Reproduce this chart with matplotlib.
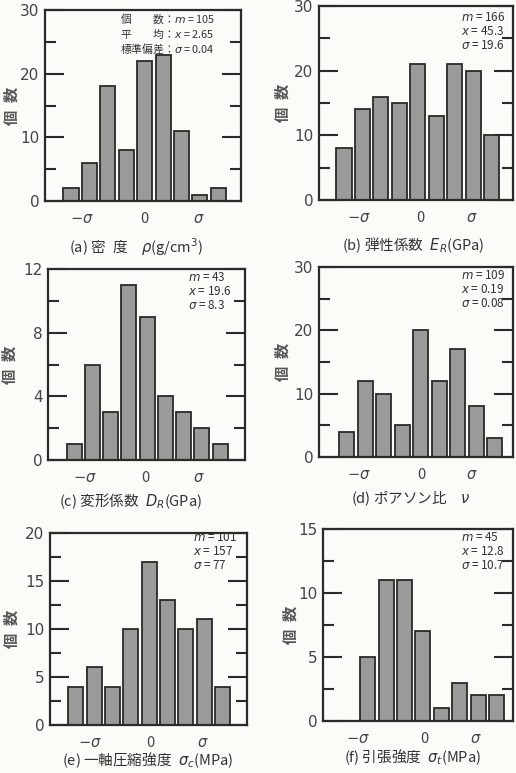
import numpy as np
import matplotlib
matplotlib.use("Agg")
import matplotlib.pyplot as plt
from matplotlib.ticker import MultipleLocator

plt.rcParams['font.family'] = ['Noto Sans CJK JP', 'DejaVu Sans']
plt.rcParams['mathtext.fontset'] = 'dejavusans'

W, H = 516, 773
DPI = 100

# ---- data: frequency counts per class (bins spaced in units of sigma) ----
counts_a = [2, 6, 18, 8, 22, 23, 11, 1, 2]
counts_b = [8, 14, 16, 15, 21, 13, 21, 20, 10]
counts_c = [1, 6, 3, 11, 9, 4, 3, 2, 1]
counts_d = [4, 12, 10, 5, 20, 12, 17, 8, 3]
counts_e = [4, 6, 4, 10, 17, 13, 10, 11, 4]
counts_f = [5, 11, 11, 7, 1, 3, 2, 2]

# index of the first occupied class
first_a, first_b, first_c, first_d, first_e, first_f = 0, 0, 0, 0, 0, 1

# where -sigma, 0 and +sigma fall on the class axis
sigma_pos_a = [0.60, 4.00, 6.96]
sigma_pos_b = [0.80, 4.13, 6.92]
sigma_pos_c = [0.60, 3.93, 6.85]
sigma_pos_d = [0.68, 4.05, 6.77]
sigma_pos_e = [0.75, 4.09, 6.90]
sigma_pos_f = [0.46, 4.07, 6.87]
sigma_labels = [r'$-\sigma$', '0', r'$\sigma$']

# summary statistics
stats_a = ['個\u3000\u3000数：$m$ = 105', '平\u3000\u3000均：$x$ = 2.65', '標準偏差：$\\sigma$ = 0.04']
stats_b = ['$m$ = 166', '$x$ = 45.3', '$\\sigma$ = 19.6']
stats_c = ['$m$ = 43', '$x$ = 19.6', '$\\sigma$ = 8.3']
stats_d = ['$m$ = 109', '$x$ = 0.19', '$\\sigma$ = 0.08']
stats_e = ['$m$ = 101', '$x$ = 157', '$\\sigma$ = 77']
stats_f = ['$m$ = 45', '$x$ = 12.8', '$\\sigma$ = 10.7']

captions = ['(a) 密\u2002度\u3000$\\rho$(g/cm$^3$)',
            '(b) 弾性係数\u2002$E_R$(GPa)',
            '(c) 変形係数\u2002$D_R$(GPa)',
            '(d) ポアソン比\u3000$\\nu$',
            '(e) 一軸圧縮強度\u2002$\\sigma_c$(MPa)',
            '(f) 引張強度\u2002$\\sigma_t$(MPa)']

# ---- layout (pixel boxes: left, right, top, bottom) ----
panels = [
    dict(counts=counts_a, first=first_a, sig=sigma_pos_a, stats=stats_a,
         box=(45, 241, 10, 201), xlim=(-1.41, 9.23), ymax=30, major=10, minor=5,
         stat_xy=(120, 11), stat_fs=7.8, cap_xy=(136, 247), ylab_x=12),
    dict(counts=counts_b, first=first_b, sig=sigma_pos_b, stats=stats_b,
         box=(319, 513, 6, 200), xlim=(-1.35, 9.15), ymax=30, major=10, minor=5,
         stat_xy=(461, 11), stat_fs=8.5, cap_xy=(413, 245), ylab_x=283),
    dict(counts=counts_c, first=first_c, sig=sigma_pos_c, stats=stats_c,
         box=(48, 245, 269, 460), xlim=(-1.44, 9.37), ymax=12, major=4, minor=2,
         stat_xy=(188, 271), stat_fs=8.5, cap_xy=(131, 501), ylab_x=10),
    dict(counts=counts_d, first=first_d, sig=sigma_pos_d, stats=stats_d,
         box=(319, 513, 267, 457), xlim=(-1.51, 9.00), ymax=30, major=10, minor=5,
         stat_xy=(461, 269), stat_fs=8.5, cap_xy=(411, 499), ylab_x=283),
    dict(counts=counts_e, first=first_e, sig=sigma_pos_e, stats=stats_e,
         box=(50, 247, 533, 725), xlim=(-1.40, 9.33), ymax=20, major=5, minor=2.5,
         stat_xy=(193, 531), stat_fs=8.5, cap_xy=(148, 760), ylab_x=12),
    dict(counts=counts_f, first=first_f, sig=sigma_pos_f, stats=stats_f,
         box=(323, 513, 529, 721), xlim=(-1.44, 8.90), ymax=15, major=5, minor=2.5,
         stat_xy=(461, 531), stat_fs=8.5, cap_xy=(413, 757), ylab_x=291),
]

paper = '#fbfbf8'
ink = '#2a2a2a'
bar_fill = '#9a9a9a'

fig = plt.figure(figsize=(W / DPI, H / DPI), dpi=DPI, facecolor=paper)

for p in panels:
    l, r, t, b = p['box']
    ax = fig.add_axes([l / W, 1 - b / H, (r - l) / W, (b - t) / H])
    ax.set_facecolor(paper)
    x = np.arange(len(p['counts'])) + p['first']
    ax.bar(x, p['counts'], width=0.82, color=bar_fill, edgecolor=ink,
           linewidth=1.3, zorder=2)
    ax.set_xlim(*p['xlim'])
    ax.set_ylim(0, p['ymax'])

    for s in ax.spines.values():
        s.set_linewidth(1.6)
        s.set_color(ink)

    ax.yaxis.set_major_locator(MultipleLocator(p['major']))
    ax.yaxis.set_minor_locator(MultipleLocator(p['minor']))
    ax.tick_params(axis='y', which='both', direction='in', left=True, right=True,
                   width=1.5, color=ink, labelsize=11, labelcolor='#444444', pad=4)
    ax.tick_params(axis='y', which='major', length=14)
    ax.tick_params(axis='y', which='minor', length=8)
    for lab in ax.get_yticklabels():
        lab.set_family('DejaVu Sans')

    ax.set_xticks(p['sig'])
    ax.set_xticklabels(sigma_labels)
    ax.tick_params(axis='x', length=0, labelsize=10.5, labelcolor='#444444', pad=8)

    # summary statistics block
    sx, sy = p['stat_xy']
    fig.text(sx / W, 1 - sy / H, '\n'.join(p['stats']), ha='left', va='top',
             fontsize=p['stat_fs'], color='#333333', linespacing=1.1)

    # vertical axis title
    fig.text(p['ylab_x'] / W, 1 - ((t + b) / 2) / H, '個\u2002数', rotation=90,
             ha='center', va='center', fontsize=11, color='#555555',
             fontweight='bold')

for cap, p in zip(captions, panels):
    cx, cy = p['cap_xy']
    fig.text(cx / W, 1 - cy / H, cap, ha='center', va='center', fontsize=10.5,
             color='#333333')

fig.savefig('out.png', dpi=DPI, facecolor=paper)
